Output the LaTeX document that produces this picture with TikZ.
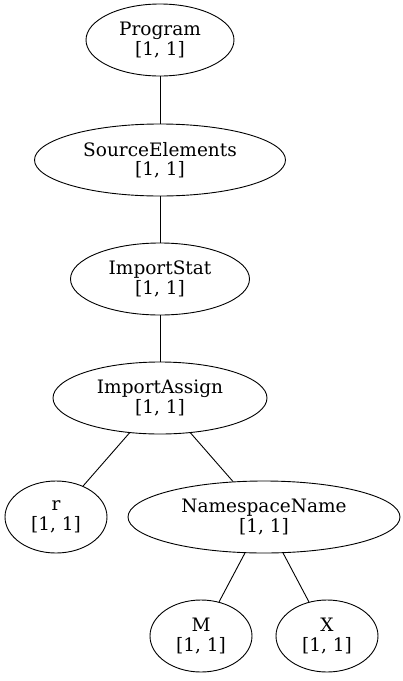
\documentclass[tikz,border=0pt]{standalone}
\usepackage{fontspec}
\setmainfont{DejaVu Serif}
\usetikzlibrary{shapes.geometric}

\begin{document}
\begin{tikzpicture}[x=1pt, y=1pt, line width=0.9pt,
    astnode/.style={draw, ellipse, inner sep=0pt, minimum height=72pt,
      align=center, font=\fontsize{18.5}{19.5}\selectfont}]
  \useasboundingbox (0,0) rectangle (403,-681);

  % tree nodes
  \node[astnode, minimum width=148pt] (prog) at (160,-40) {Program\\{}[1, 1]};
  \node[astnode, minimum width=251pt] (srcel) at (160,-160) {SourceElements\\{}[1, 1]};
  \node[astnode, minimum width=179pt] (impstat) at (160,-279) {ImportStat\\{}[1, 1]};
  \node[astnode, minimum width=214pt] (impassign) at (160,-398) {ImportAssign\\{}[1, 1]};
  \node[astnode, minimum width=102pt] (r) at (56,-517) {r\\{}[1, 1]};
  \node[astnode, minimum width=272pt] (nsname) at (264,-517) {NamespaceName\\{}[1, 1]};
  \node[astnode, minimum width=102pt] (m) at (201,-636) {M\\{}[1, 1]};
  \node[astnode, minimum width=102pt] (x) at (327,-636) {X\\{}[1, 1]};

  % edges
  \draw (prog) -- (srcel);
  \draw (srcel) -- (impstat);
  \draw (impstat) -- (impassign);
  \draw (impassign) -- (r);
  \draw (impassign) -- (nsname);
  \draw (nsname) -- (m);
  \draw (nsname) -- (x);
\end{tikzpicture}
\end{document}
